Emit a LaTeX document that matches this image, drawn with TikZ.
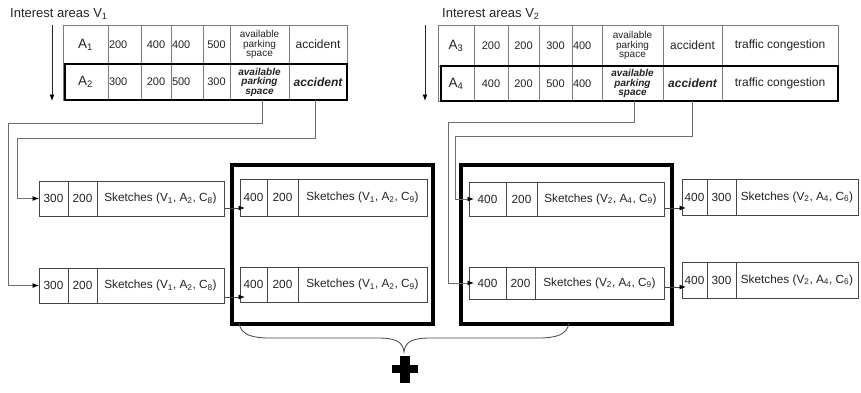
\documentclass[tikz,border=0pt]{standalone}
\usepackage{fontspec}
\setmainfont{Liberation Sans}
\usetikzlibrary{arrows.meta,calc}
\definecolor{txt}{RGB}{35,35,35}
\definecolor{tline}{RGB}{125,125,125}
\definecolor{bline}{RGB}{70,70,70}
\definecolor{cline}{RGB}{110,110,110}
\newcommand\mycell[7][]{\node[#1, minimum width={(#5-#3)*1pt}, minimum height={(#6-#4)*1pt}] (#2) at ({(#3+#5)/2},{(#4+#6)/2}) {#7};}
\newcommand\sk[3]{Sketches (V\textsubscript{#1}, A\textsubscript{#2}, C\textsubscript{#3})}
\tikzset{
  base/.style={inner sep=0pt, outer sep=0pt, text=txt, align=center},
  tcell/.style={base, draw=tline, line width=0.8pt, font=\fontsize{11}{11}\selectfont},
  tbig/.style={tcell, font=\fontsize{13.5}{13.5}\selectfont},
  tsmall/.style={tcell, font=\fontsize{10}{9.5}\selectfont},
  tsmallb/.style={tcell, font=\fontsize{10}{9.5}\selectfont\bfseries\itshape},
  tword/.style={tcell, font=\fontsize{12}{12}\selectfont},
  twordb/.style={tcell, font=\fontsize{12}{12}\selectfont\bfseries\itshape},
  scell/.style={base, draw=bline, line width=0.9pt, font=\fontsize{11.8}{11.8}\selectfont},
  frame/.style={draw=black, line width=4pt, inner sep=0pt, outer sep=0pt},
  rowb/.style={draw=black, line width=2.6pt},
  conn/.style={draw=cline, line width=0.9pt, -{Latex[length=6.5pt,width=5pt,color=black]}},
  arr/.style={draw=bline, line width=0.9pt, -{Latex[length=6.5pt,width=5pt,color=black]}},
  varr/.style={draw=black!85, line width=0.9pt, -{Latex[length=6.5pt,width=5pt,color=black]}},
  ttl/.style={inner sep=0pt, text=txt, font=\fontsize{13}{13}\selectfont, anchor=base west},
}
\begin{document}
\begin{tikzpicture}[x=1pt,y=-1pt]
\useasboundingbox[fill=white] (0,0) rectangle (861,392);
% titles
\node[ttl] (title1) at (10,17) {Interest areas V\textsubscript{1}};
\node[ttl] (title2) at (442,17) {Interest areas V\textsubscript{2}};
% vertical arrows
\coordinate (va1) at (52,25); \coordinate (vb1) at (52,101);
\coordinate (va2) at (425,25); \coordinate (vb2) at (425,101);
\draw[varr] (va1) -- (vb1);
\draw[varr] (va2) -- (vb2);
% table V1
\mycell[tbig]{t1r1a}{63}{25}{108}{64}{A\textsubscript{1}}
\mycell[tcell,text width=31pt,align=left]{t1r1b}{108}{25}{141}{64}{200}
\mycell[tcell]{t1r1c}{141}{25}{171}{64}{400}
\mycell[tcell,text width=30pt,align=left]{t1r1d}{171}{25}{203}{64}{400}
\mycell[tcell]{t1r1e}{203}{25}{230}{64}{500}
\mycell[tsmall]{t1r1f}{230}{25}{289}{64}{available\\parking\\space}
\mycell[tword]{t1r1g}{289}{25}{347}{64}{accident}
\mycell[tbig]{t1r2a}{63}{64}{108}{100}{A\textsubscript{2}}
\mycell[tcell,text width=31pt,align=left]{t1r2b}{108}{64}{141}{100}{300}
\mycell[tcell]{t1r2c}{141}{64}{171}{100}{200}
\mycell[tcell,text width=30pt,align=left]{t1r2d}{171}{64}{203}{100}{500}
\mycell[tcell]{t1r2e}{203}{64}{230}{100}{300}
\mycell[tsmallb]{t1r2f}{230}{64}{289}{100}{available\\parking\\space}
\mycell[twordb]{t1r2g}{289}{64}{347}{100}{accident}
\draw[rowb] ([xshift=2pt]t1r2a.north west) rectangle (t1r2g.south east);
% table V2
\mycell[tbig]{t2r1a}{438}{25}{474}{66}{A\textsubscript{3}}
\mycell[tcell]{t2r1b}{474}{25}{508}{66}{200}
\mycell[tcell]{t2r1c}{508}{25}{539}{66}{200}
\mycell[tcell]{t2r1d}{539}{25}{572}{66}{300}
\mycell[tcell,text width=28pt,align=left]{t2r1e}{572}{25}{602}{66}{400}
\mycell[tsmall]{t2r1f}{602}{25}{663}{66}{available\\parking\\space}
\mycell[tword]{t2r1g}{663}{25}{722}{66}{accident}
\mycell[tword]{t2r1h}{722}{25}{838}{66}{traffic congestion}
\mycell[tbig]{t2r2a}{438}{66}{474}{101}{A\textsubscript{4}}
\mycell[tcell]{t2r2b}{474}{66}{508}{101}{400}
\mycell[tcell]{t2r2c}{508}{66}{539}{101}{200}
\mycell[tcell]{t2r2d}{539}{66}{572}{101}{500}
\mycell[tcell,text width=28pt,align=left]{t2r2e}{572}{66}{602}{101}{400}
\mycell[tsmallb]{t2r2f}{602}{66}{663}{101}{available\\parking\\space}
\mycell[twordb]{t2r2g}{663}{66}{722}{101}{accident}
\mycell[tword]{t2r2h}{722}{66}{838}{101}{traffic congestion}
\draw[rowb] ([xshift=3pt]t2r2a.north west) rectangle (t2r2h.south east);
% frames
\mycell[frame]{fa}{232}{165}{433}{324}{}
\mycell[frame]{fb}{461}{165}{672}{324}{}
% sketch boxes
\mycell[scell]{L1a}{39}{181}{68}{216}{300}
\mycell[scell]{L1b}{68}{181}{97}{216}{200}
\mycell[scell]{L1c}{97}{181}{224}{216}{\sk{1}{2}{8}}
\mycell[scell]{L2a}{39}{268}{68}{303}{300}
\mycell[scell]{L2b}{68}{268}{97}{303}{200}
\mycell[scell]{L2c}{97}{268}{224}{303}{\sk{1}{2}{8}}
\mycell[scell]{M1a}{240}{179}{267}{216}{400}
\mycell[scell]{M1b}{267}{179}{298}{216}{200}
\mycell[scell]{M1c}{298}{179}{427}{216}{\sk{1}{2}{9}}
\mycell[scell]{M2a}{240}{267}{267}{302}{400}
\mycell[scell]{M2b}{267}{267}{298}{302}{200}
\mycell[scell]{M2c}{298}{267}{427}{302}{\sk{1}{2}{9}}
\mycell[scell]{R1a}{469}{182}{506}{216}{400}
\mycell[scell]{R1b}{506}{182}{537}{216}{200}
\mycell[scell]{R1c}{537}{182}{664}{216}{\sk{2}{4}{9}}
\mycell[scell]{R2a}{469}{267}{506}{299}{400}
\mycell[scell]{R2b}{506}{267}{535}{299}{200}
\mycell[scell]{R2c}{535}{267}{664}{299}{\sk{2}{4}{9}}
\mycell[scell]{F1a}{682}{179}{707}{215}{400}
\mycell[scell]{F1b}{707}{179}{736}{215}{300}
\mycell[scell]{F1c}{736}{179}{858}{215}{\sk{2}{4}{6}}
\mycell[scell]{F2a}{682}{262}{707}{298}{400}
\mycell[scell]{F2b}{707}{262}{736}{298}{300}
\mycell[scell]{F2c}{736}{262}{858}{298}{\sk{2}{4}{6}}
% connectors from tables
\coordinate (k1) at (8,123); \coordinate (k2) at (17,138);
\coordinate (k3) at (448,122); \coordinate (k4) at (455,136);
\draw[conn] ([xshift=3pt]t1r2f.south) |- (k1) |- (L2a.west);
\draw[conn] ([xshift=-3pt]t1r2g.south) |- (k2) |- (L1a.west);
\draw[conn] ([xshift=2pt]t2r2f.south) |- (k3) |- ([xshift=5pt]R2a.west);
\draw[conn] (t2r2g.south) |- (k4) |- ([xshift=5pt]R1a.west);
% arrows between boxes
\draw[arr] ($(L1c.south east)+(0,-8)$) -- ($(L1c.south east -| M1a.west)+(5,-8)$);
\draw[arr] ($(L2c.south east)+(0,-6)$) -- ($(L2c.south east -| M2a.west)+(5,-6)$);
\draw[arr] ($(R1c.south east)+(0,-8)$) -- ($(R1c.south east -| F1a.west)+(4,-8)$);
\draw[arr] ($(R2c.south east)+(0,-12)$) -- ($(R2c.south east -| F2a.west)+(4,-12)$);
% brace
\draw[draw=bline, line width=0.8pt] (239,323) .. controls (241,335) and (252,338) .. (270,338) -- (378,338) .. controls (396,338) and (403,342) .. (404,352) .. controls (405,342) and (412,338) .. (430,338) -- (538,338) .. controls (556,338) and (567,335) .. (569,323);
% plus
\fill[black] (392,365) rectangle (418,373);
\fill[black] (400,356) rectangle (410,383);
\end{tikzpicture}
\end{document}
